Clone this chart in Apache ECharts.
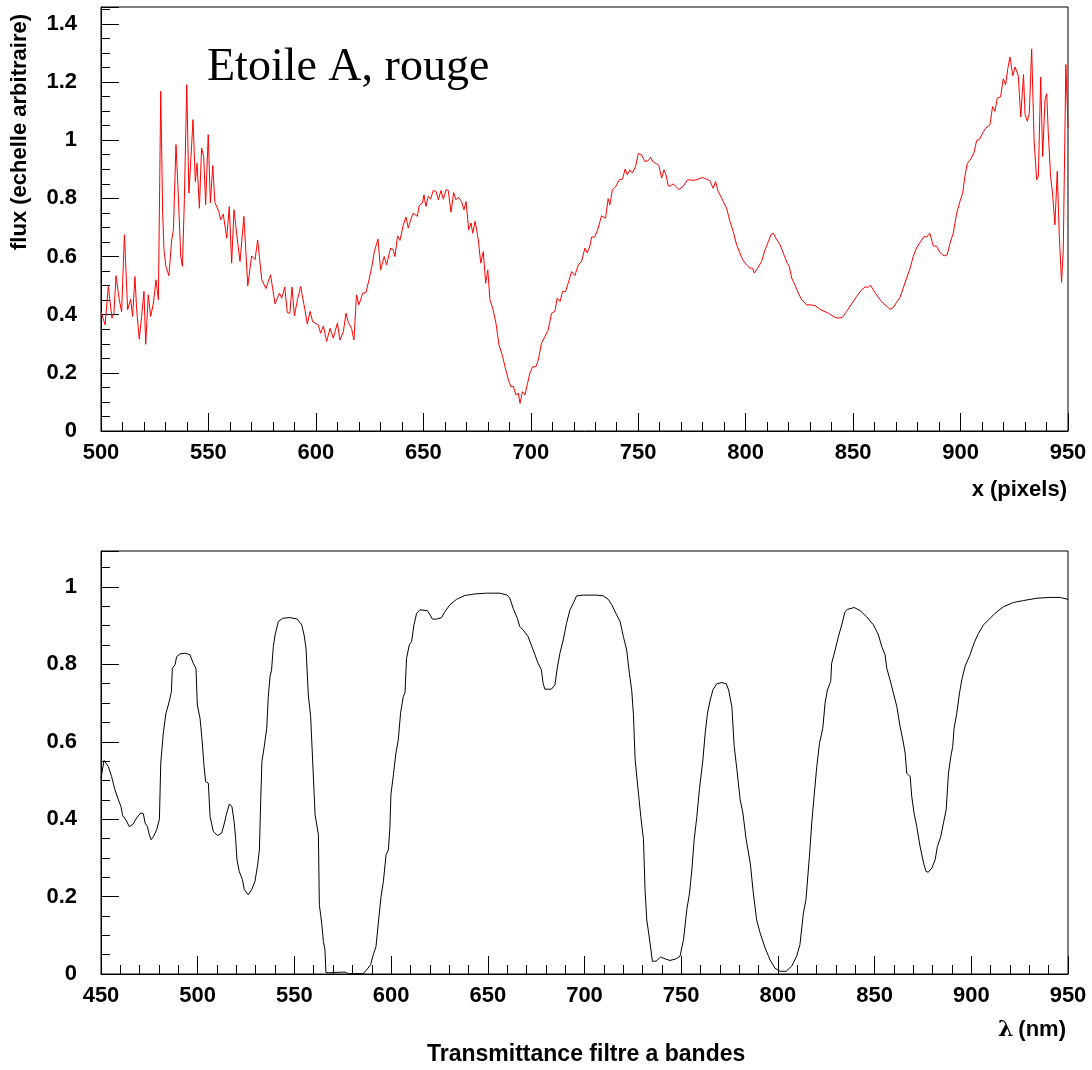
<!DOCTYPE html>
<html>
<head>
<meta charset="utf-8">
<script src="https://cdn.jsdelivr.net/npm/echarts@6/dist/echarts.min.js"></script>
<style>html,body{margin:0;padding:0;background:#fff}#chart{width:1092px;height:1070px}</style>
</head>
<body>
<div id="chart"></div>
<script>
// ---- Top panel: star spectrum (flux vs pixel) ----
const fluxX = [
500,501.9,503.4,505.1,506,507,508.5,509.6,510.9,512.4,
513.2,513.8,514.7,515.8,516.6,517.8,518.9,520,520.8,522,
523.1,524.4,525.6,526.7,527.8,528.7,529.3,530.2,531.6,532.9,
533.7,534.9,536,537.1,537.9,538.8,539.9,540.9,541.9,542.8,
543.9,544.7,545.8,546.8,547.8,548.7,549.9,550.9,552,553,
553.8,554.8,555.7,556.9,558.5,559.7,560.8,561.9,563.1,564.7,
566.5,568.3,570.1,571.7,572.9,574.8,576.8,578.9,581,583,
584.1,585.5,586.7,587.9,588.9,590,591.4,592.9,594.9,596,
597.3,598.5,601.1,602.2,603.5,605,606.6,608.1,610,611.2,
612.8,614,615.1,616.6,617.7,618.9,
620,621.8,623.3,624.9,625.9,627.2,628,628.9,630.1,631.8,
632.9,634.8,636,636.8,638,639.1,640.7,641.9,643,644.1,
645.3,647.2,648.1,649.6,650.3,651.2,652.3,653.4,654.6,655.9,
657,658.2,659.3,660.6,661.6,662.9,664.1,665.2,666.3,667.8,
668.9,669.9,671.1,672.2,673,674.1,675.6,676.7,677.9,679,
680,681,682.3,683.8,685.2,686.9,688,689.6,690.7,691.9,
693.1,694.2,695,696.1,697.3,698.5,699.6,700.9,702.4,703.5,
705,706.6,708.1,709.7,711.2,712.3,713.6,714.8,716.2,717.4,
719,720.5,722.1,723.6,725.2,726.3,
727.5,728.3,729.8,731.4,732.9,734.8,736,736.8,738,739.6,
741.2,742.7,743.9,744.9,746.1,747.2,748.8,750,751.5,753.1,
754.6,755.7,757,758.5,759.6,760.9,762,762.9,764,765.1,
766.3,767.5,768.9,770.9,773,773.7,775.9,777.9,779.9,781.8,
783.3,784.1,784.9,786,787.2,788.8,791.1,792.7,794.2,795.8,
797.3,798.6,800.4,802,803.2,804,805.6,807.4,809,810.6,
811.8,812.9,814.1,816,817.8,819.4,820.3,821.4,822.9,824.5,
826.1,828.4,829.9,832.3,834.3,836.1,838.5,
841.5,843.1,845.1,847,849.3,851.6,853.5,855.5,857.1,858.1,
859.4,861.2,863.2,865.3,867.1,868.4,870.2,871.8,873.3,874.9,
876.4,878,879.5,881.1,883,884.2,885.7,887.3,888.9,890.4,
892.3,893.8,895.1,896.6,898.2,899.7,901,902,903.1,904.7,
906.2,907.5,908.7,910.3,911.8,913.7,914.9,916,917.1,918.6,
919.9,921,921.9,923,924.3,925.4,926.9,928,929.3,930,
931.1,932,933.1,934.2,935.4,936.2,937.3,938.2,939.3,940.1,
940.8,941.9,942.8,943.9,945,945.9,947,947.8,949,950
];
const fluxY = [
.41,.365,.497,.388,.405,.534,.451,.41,.675,.417,
.422,.453,.394,.531,.417,.316,.394,.48,.298,.468,
.394,.44,.52,.451,1.168,.749,.623,.566,.534,.657,
.692,.985,.807,.6,.566,.795,1.191,.818,.944,1.071,
.858,.921,.766,.973,.944,.778,1.019,.784,.913,.786,
.784,.755,.726,.746,.663,.772,.577,.761,.68,.583,
.738,.499,.602,.589,.657,.52,.49,.537,.437,.474,
.457,.495,.407,.405,.495,.396,.451,.497,.417,.368,
.411,.376,.365,.336,.361,.308,.353,.319,.371,.313,
.342,.405,.373,.353,.313,.468,
.434,.474,.476,.526,.56,.617,.612,.66,.554,.6,
.571,.629,.623,.6,.671,.655,.709,.736,.698,.726,
.749,.738,.775,.784,.812,.772,.807,.797,.827,.824,
.795,.827,.797,.83,.827,.752,.82,.795,.804,.789,
.761,.789,.692,.715,.68,.721,.657,.577,.617,.508,
.554,.451,.422,.371,.296,.256,.221,.176,.153,.153,
.124,.13,.095,.135,.124,.164,.199,.221,.221,.244,
.302,.325,.348,.405,.411,.457,.445,.48,.48,.508,
.548,.534,.571,.583,.629,.612,
.636,.667,.667,.698,.74,.732,.799,.778,.83,.841,
.864,.866,.901,.881,.898,.887,.91,.954,.95,.927,
.929,.941,.925,.919,.913,.87,.898,.881,.843,.843,
.85,.841,.83,.841,.864,.858,.862,.866,.872,.866,
.861,.858,.835,.858,.824,.801,.766,.721,.686,.64,
.612,.589,.571,.56,.56,.543,.56,.583,.623,.652,
.675,.68,.663,.64,.606,.577,.566,.526,.503,.474,
.451,.434,.434,.431,.42,.413,.405,
.391,.388,.391,.411,.437,.462,.482,.495,.495,.501,
.485,.465,.445,.431,.419,.422,.442,.459,.491,.526,
.557,.6,.629,.648,.669,.667,.68,.637,.635,.614,
.602,.606,.646,.68,.749,.789,.818,.875,.919,.935,
.956,.999,1.002,1.025,1.042,1.053,1.116,1.099,1.145,1.149,
1.211,1.191,1.243,1.286,1.222,1.252,1.22,1.08,1.226,1.088,
1.065,1.094,1.314,1.002,.864,.875,1.217,.944,1.139,1.16,
1.03,.875,.818,.709,.893,.68,.511,.623,1.26,1.042
];

// ---- Bottom panel: band filter transmittance vs wavelength ----
const transX = [
450,451.6,452.6,453.8,455.5,457.2,459,460.3,461.2,462.9,
464.6,466.4,468.4,470.5,471.9,472.8,474,475,475.9,477.1,
478.8,480.2,480.9,482.2,483.6,484.8,485.7,486.4,486.9,488.3,
489.1,490.8,493.4,496,497.7,499.1,499.8,501.2,502.1,503.3,
504.1,505.5,506.4,508.1,510.2,512.4,513.8,515,516.4,517.7,
518.9,519.6,520.3,521.5,523.1,524.1,526.2,527.9,529.6,531,
531.9,532.6,533.2,534.3,535.7,536.5,537.4,538.2,539.1,540,
541.7,543.9,547.7,551.5,553.8,555,556,557.2,558.4,559.4,
560.7,562.4,562.9,564.1,565,565.8,566.3,567.5,571,576.2,
577.9,585.6,587.4,589.4,590.8,592.2,593.4,594.8,596,597.4,
598.6,599.4,599.9,601.2,602.5,603.7,604.9,606.3,607.2,608,
609.4,610.6,611.8,613.2,614.9,
618.7,620.1,621.4,623.5,626.1,627.8,630.4,633.8,638.1,643.3,
649.3,656.2,660,661.4,663.1,665.3,666.5,668.3,670.8,673.4,
676,677.7,678.6,679.5,682.9,684.7,685.9,687.3,689,690.7,
692.5,694.2,695.9,699.4,706.3,709.7,712.3,714.1,716.6,718.4,
720.1,721.8,723.2,724.4,725.3,726.2,727.9,729.1,730.5,731.3,
732.2,733.9,735.1,737,739.4,741.7,744.2,747.3,749.4,751.2,
752.9,754.3,755.5,756.7,758.1,759.4,761.2,762.4,763.6,765,
766.4,768.4,771,773.3,774.5,776.2,777.4,778.8,780.5,781.9,
783.6,785.7,
787.3,789,790.8,793.4,795.9,798.5,801.1,804.2,807.1,809.7,
811.4,813.2,814.5,816.3,817.5,818.7,820.1,821.5,823.2,824.4,
825.6,827.3,827.8,829.6,831.3,833,834.7,835.9,839.4,842.5,
845.9,849.4,852,853.7,855.4,856.3,858,859.7,861.5,863.2,
864.6,865.8,866.6,868.4,869.2,870.4,871.8,873.5,875.3,876.6,
877.8,879.6,881.3,882.5,884.2,885.6,887,888.2,889.4,890.4,
891.1,892.5,893.9,895.1,896.8,899.4,901.4,903.7,906.3,908.9,
912.3,916.6,921.8,927,933.9,940.8,946,950
];
const transY = [
.506,.552,.552,.536,.51,.476,.45,.433,.409,.398,
.381,.386,.403,.416,.414,.39,.381,.36,.347,.355,
.373,.4,.545,.622,.674,.695,.713,.73,.79,.799,
.82,.827,.829,.825,.803,.79,.695,.661,.614,.536,
.497,.493,.407,.368,.358,.364,.39,.416,.439,.433,
.39,.351,.295,.265,.244,.218,.205,.218,.239,.282,
.321,.45,.549,.584,.635,.717,.769,.786,.846,.876,
.911,.919,.921,.917,.902,.876,.842,.721,.665,.664,
.411,.36,.179,.132,.084,.063,.004,.003,.004,.005,
.001,.001,.011,.024,.05,.071,.132,.2,.239,.308,
.321,.381,.463,.515,.571,.605,.674,.717,.727,.816,
.85,.859,.902,.932,.941,
.939,.928,.917,.917,.921,.936,.954,.968,.978,.982,
.984,.984,.979,.971,.945,.919,.898,.889,.872,.838,
.803,.786,.751,.736,.736,.747,.79,.829,.863,.906,
.941,.958,.977,.979,.979,.977,.968,.954,.928,.911,
.872,.837,.777,.734,.67,.553,.467,.407,.347,.218,
.14,.08,.033,.033,.044,.039,.035,.039,.046,.089,
.166,.209,.269,.347,.407,.476,.553,.622,.674,.708,
.734,.75,.753,.75,.734,.691,.588,.528,.45,.416,
.347,.287,
.209,.14,.106,.067,.037,.015,.007,.007,.02,.046,
.076,.158,.192,.304,.39,.459,.536,.596,.635,.7,
.734,.756,.803,.837,.872,.902,.936,.942,.947,.939,
.923,.902,.876,.846,.825,.79,.76,.726,.691,.639,
.605,.571,.519,.51,.459,.416,.381,.33,.287,.265,
.263,.274,.295,.33,.355,.39,.424,.519,.562,.588,
.635,.674,.726,.76,.796,.825,.855,.88,.902,.915,
.932,.949,.96,.965,.971,.973,.973,.968
];

// axis ranges / tick steps
const topXRange = [500, 950], topYRange = [0, 1.458];
const botXRange = [450, 950], botYRange = [0, 1.093];
const xStep = 50, yStep = 0.2;

// texts
const panelLabel = 'Etoile A, rouge';
const topXName = 'x (pixels)';
const topYName = 'flux (echelle arbitraire)';
const botXName = 'λ (nm)';
const botTitle = 'Transmittance filtre a bandes';

const FONT = 'Liberation Sans, Arial, sans-serif';
const TICKFS = 22;

function zip(xs, ys) { return xs.map((x, i) => [x, ys[i]]); }

function xAxis(gridIndex, range) {
  return {
    type: 'value', gridIndex, min: range[0], max: range[1], interval: xStep,
    axisLine: { show: true, onZero: false, lineStyle: { color: '#000', width: 1 } },
    axisTick: { show: true, inside: true, length: 18, lineStyle: { color: '#000', width: 1 } },
    minorTick: { show: true, splitNumber: 5, length: 9, lineStyle: { color: '#000', width: 1 } },
    splitLine: { show: false }, minorSplitLine: { show: false },
    axisLabel: { margin: 11, fontFamily: FONT, fontWeight: 'bold', fontSize: TICKFS, color: '#000' }
  };
}
function yAxis(gridIndex, range) {
  return {
    type: 'value', gridIndex, min: range[0], max: range[1], interval: yStep,
    axisLine: { show: true, onZero: false, lineStyle: { color: '#000', width: 1 } },
    axisTick: { show: true, inside: true, length: 18, lineStyle: { color: '#000', width: 1 } },
    minorTick: { show: true, splitNumber: 4, length: 9, lineStyle: { color: '#000', width: 1 } },
    splitLine: { show: false }, minorSplitLine: { show: false },
    axisLabel: {
      margin: 24, fontFamily: FONT, fontWeight: 'bold', fontSize: TICKFS, color: '#000',
      formatter: v => {
        const k = v / yStep;
        if (Math.abs(k - Math.round(k)) > 1e-6) return '';
        return String(Math.round(v * 10) / 10);
      }
    }
  };
}

const chart = echarts.init(document.getElementById('chart'), null, { renderer: 'canvas' });
chart.setOption({
  animation: false,
  backgroundColor: '#fff',
  grid: [
    { left: 101, top: 7, width: 967, height: 424, show: true, borderColor: '#000', borderWidth: 1, backgroundColor: 'transparent' },
    { left: 101, top: 551, width: 967, height: 423, show: true, borderColor: '#000', borderWidth: 1, backgroundColor: 'transparent' }
  ],
  xAxis: [xAxis(0, topXRange), xAxis(1, botXRange)],
  yAxis: [yAxis(0, topYRange), yAxis(1, botYRange)],
  title: [
    { text: panelLabel, left: 207, top: 45, padding: 0,
      textStyle: { fontFamily: 'Liberation Serif, Times New Roman, serif', fontSize: 46, fontWeight: 'normal', color: '#000' } },
    { text: topXName, right: 25, top: 479, padding: 0,
      textStyle: { fontFamily: FONT, fontSize: 22, fontWeight: 'bold', color: '#000' } },
    { text: '{l|λ} {b|(nm)}', right: 26, top: 1019, padding: 0,
      textStyle: { rich: {
        l: { fontFamily: 'DejaVu Serif, serif', fontSize: 22, color: '#000' },
        b: { fontFamily: FONT, fontSize: 22, fontWeight: 'bold', color: '#000' } } } },
    { text: botTitle, left: 427, top: 1043, padding: 0,
      textStyle: { fontFamily: FONT, fontSize: 23, fontWeight: 'bold', color: '#000' } }
  ],
  graphic: [
    { type: 'text', x: 20, y: 14, rotation: Math.PI / 2,
      style: { text: topYName, fontFamily: FONT, fontSize: 22, fontWeight: 'bold', fill: '#000', align: 'right', verticalAlign: 'middle' } }
  ],
  series: [
    { type: 'line', xAxisIndex: 0, yAxisIndex: 0, data: zip(fluxX, fluxY), showSymbol: false, symbol: 'none',
      lineStyle: { color: '#ff0000', width: 1 }, clip: true },
    { type: 'line', xAxisIndex: 1, yAxisIndex: 1, data: zip(transX, transY), showSymbol: false, symbol: 'none',
      lineStyle: { color: '#000', width: 1 }, clip: true }
  ]
});
</script>
</body>
</html>
